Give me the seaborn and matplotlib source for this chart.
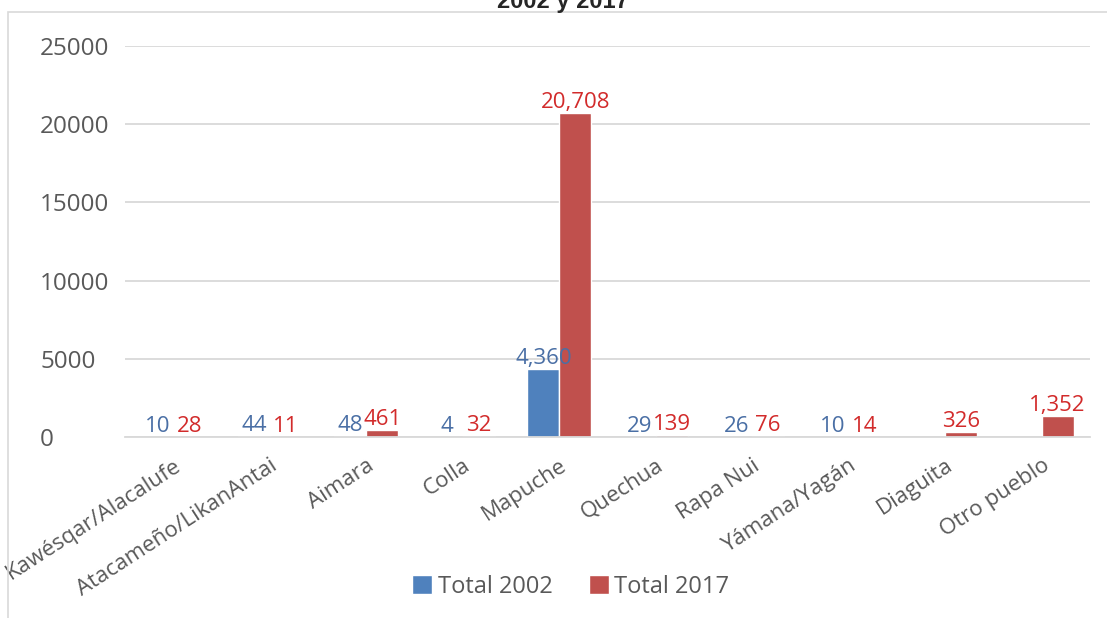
import matplotlib
matplotlib.use("Agg")
import matplotlib.pyplot as plt
from matplotlib.patches import Rectangle
import numpy as np
import pandas as pd
import seaborn as sns

# Pueblos indígenas y población declarada en cada censo
pueblos = ["Kawésqar/Alacalufe", "Atacameño/LikanAntai", "Aimara", "Colla",
           "Mapuche", "Quechua", "Rapa Nui", "Yámana/Yagán", "Diaguita",
           "Otro pueblo"]
total_2002 = [10, 44, 48, 4, 4360, 29, 26, 10, np.nan, np.nan]
total_2017 = [28, 11, 461, 32, 20708, 139, 76, 14, 326, 1352]
series = ["Total 2002", "Total 2017"]
y_ticks = [0, 5000, 10000, 15000, 20000, 25000]

bar_colors = ["#4F81BD", "#C0504D"]
label_colors = ["#4A6FA5", "#D22B2B"]
text_gray = "#595959"

df = pd.DataFrame({
    "pueblo": pueblos * 2,
    "serie": [series[0]] * len(pueblos) + [series[1]] * len(pueblos),
    "valor": total_2002 + total_2017,
})

sns.set_style("white")
plt.rcParams["font.family"] = ["Open Sans", "DejaVu Sans"]

W, H = 1107, 618
fig = plt.figure(figsize=(W / 100, H / 100), dpi=100)
ax = fig.add_axes([125 / W, 1 - 437 / H, 965 / W, 391 / H])

sns.barplot(data=df, x="pueblo", y="valor", hue="serie", order=pueblos,
            hue_order=series, palette=bar_colors, width=0.66, gap=0,
            saturation=1, ax=ax, legend=True)

for cont, col in zip(ax.containers, label_colors):
    ax.bar_label(cont, fmt="{:,.0f}", color=col, fontsize=16, padding=0)

ax.set_ylim(0, 25000)
ax.set_xlim(-0.5, len(pueblos) - 0.5)
ax.set_yticks(y_ticks)
ax.set_yticklabels([str(t) for t in y_ticks], color=text_gray, fontsize=17.5)
for lbl in ax.get_yticklabels():
    lbl.set_horizontalalignment("left")
    lbl.set_clip_on(False)
ax.tick_params(axis="y", length=0, pad=(125 - 40) * 0.72)
ax.tick_params(axis="x", length=0, pad=13)
ax.set_xticks(range(len(pueblos)))
ax.set_xticklabels(pueblos, rotation=33, ha="right", rotation_mode="anchor",
                   color=text_gray, fontsize=16)
ax.set_xlabel("")
ax.set_ylabel("")
ax.yaxis.grid(True, color="#D9D9D9", linewidth=1.3)
ax.set_axisbelow(True)
for s in ["top", "right", "left"]:
    ax.spines[s].set_visible(False)
ax.spines["bottom"].set_color("#D9D9D9")
ax.spines["bottom"].set_linewidth(1.3)

handles, labels = ax.get_legend_handles_labels()
ax.legend_.remove()
fig.legend(handles, labels, loc="center", bbox_to_anchor=(571 / W, 1 - 587 / H),
           ncol=2, frameon=False, fontsize=17, handlelength=0.85,
           handleheight=0.85, handletextpad=0.25, columnspacing=1.5,
           labelcolor=text_gray, borderaxespad=0)

# Marco del gráfico
top = 1 - 12 / H
fig.add_artist(Rectangle((8 / W, -0.05), 1.2, top + 0.05, transform=fig.transFigure,
                         fill=False, edgecolor="#D9D9D9", linewidth=1.2))

fig.text(563 / W, 0.997, "2002 y 2017", ha="center", va="center",
         fontsize=17, fontweight="bold",
         family=["Liberation Sans Narrow", "Liberation Sans", "DejaVu Sans"])

fig.savefig("out.png", dpi=100)
